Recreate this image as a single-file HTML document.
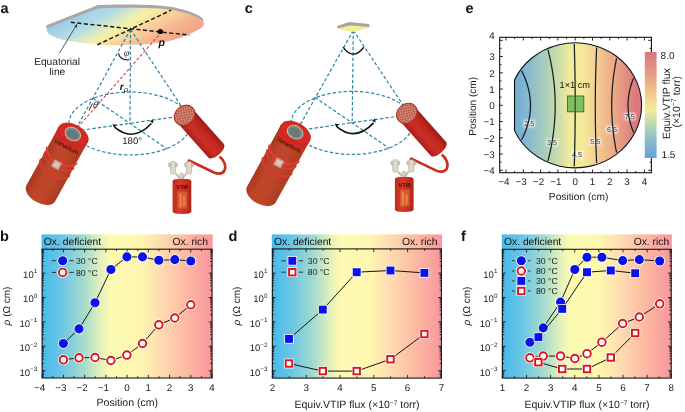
<!DOCTYPE html>
<html><head><meta charset="utf-8"><style>html,body{margin:0;padding:0;background:#fff;}svg{display:block;text-rendering:geometricPrecision;filter:blur(0.35px);}</style></head>
<body>
<svg width="685" height="412" viewBox="0 0 685 412" font-family="'Liberation Sans', sans-serif">
<defs>
<linearGradient id="gb" x1="0" x2="1" y1="0" y2="0">
<stop offset="0" stop-color="#45baeb"/>
<stop offset="0.12" stop-color="#6cc6e4"/>
<stop offset="0.25" stop-color="#a6dccc"/>
<stop offset="0.34" stop-color="#e0f0bc"/>
<stop offset="0.40" stop-color="#fdfbb2"/>
<stop offset="0.58" stop-color="#fef6b0"/>
<stop offset="0.70" stop-color="#fedbb0"/>
<stop offset="0.85" stop-color="#fcb8a2"/>
<stop offset="1" stop-color="#f9969e"/>
</linearGradient>
</defs>
<rect width="685" height="412" fill="#fff"/>
<text x="0.4" y="12.7" font-size="14.5" font-weight="bold" fill="#111">a</text>
<text x="244.8" y="13" font-size="14.5" font-weight="bold" fill="#111">c</text>
<text x="465.4" y="13" font-size="14.5" font-weight="bold" fill="#111">e</text>
<text x="0.0" y="241" font-size="14.5" font-weight="bold" fill="#111">b</text>
<text x="228.4" y="241" font-size="14.5" font-weight="bold" fill="#111">d</text>
<text x="461.0" y="241" font-size="14.5" font-weight="bold" fill="#111">f</text>
<rect x="41.6" y="234.4" width="171.0" height="143.6" fill="url(#gb)"/>
<text x="43.800000000000004" y="244.8" font-size="10.3" fill="#111">Ox. deficient</text>
<text x="208" y="244.8" font-size="10.3" fill="#111" text-anchor="end">Ox. rich</text>
<rect x="42.2" y="249.2" width="169.8" height="128.8" fill="none" stroke="#1a1a1a" stroke-width="1.1"/>
<path d="M42.20,378v-3.2M42.20,249.2v3.2M52.81,378v-1.8M52.81,249.2v1.8M63.43,378v-3.2M63.43,249.2v3.2M74.04,378v-1.8M74.04,249.2v1.8M84.65,378v-3.2M84.65,249.2v3.2M95.26,378v-1.8M95.26,249.2v1.8M105.88,378v-3.2M105.88,249.2v3.2M116.49,378v-1.8M116.49,249.2v1.8M127.10,378v-3.2M127.10,249.2v3.2M137.71,378v-1.8M137.71,249.2v1.8M148.32,378v-3.2M148.32,249.2v3.2M158.94,378v-1.8M158.94,249.2v1.8M169.55,378v-3.2M169.55,249.2v3.2M180.16,378v-1.8M180.16,249.2v1.8M190.78,378v-3.2M190.78,249.2v3.2M201.39,378v-1.8M201.39,249.2v1.8M212.00,378v-3.2M212.00,249.2v3.2M42.2,376.11h1.8M212,376.11h-1.8M42.2,374.48h1.8M212,374.48h-1.8M42.2,373.06h1.8M212,373.06h-1.8M42.2,371.82h1.8M212,371.82h-1.8M42.2,370.70h3.2M212,370.70h-3.2M42.2,363.35h1.8M212,363.35h-1.8M42.2,359.06h1.8M212,359.06h-1.8M42.2,356.01h1.8M212,356.01h-1.8M42.2,353.65h1.8M212,353.65h-1.8M42.2,351.71h1.8M212,351.71h-1.8M42.2,350.08h1.8M212,350.08h-1.8M42.2,348.66h1.8M212,348.66h-1.8M42.2,347.42h1.8M212,347.42h-1.8M42.2,346.30h3.2M212,346.30h-3.2M42.2,338.95h1.8M212,338.95h-1.8M42.2,334.66h1.8M212,334.66h-1.8M42.2,331.61h1.8M212,331.61h-1.8M42.2,329.25h1.8M212,329.25h-1.8M42.2,327.31h1.8M212,327.31h-1.8M42.2,325.68h1.8M212,325.68h-1.8M42.2,324.26h1.8M212,324.26h-1.8M42.2,323.02h1.8M212,323.02h-1.8M42.2,321.90h3.2M212,321.90h-3.2M42.2,314.55h1.8M212,314.55h-1.8M42.2,310.26h1.8M212,310.26h-1.8M42.2,307.21h1.8M212,307.21h-1.8M42.2,304.85h1.8M212,304.85h-1.8M42.2,302.91h1.8M212,302.91h-1.8M42.2,301.28h1.8M212,301.28h-1.8M42.2,299.86h1.8M212,299.86h-1.8M42.2,298.62h1.8M212,298.62h-1.8M42.2,297.50h3.2M212,297.50h-3.2M42.2,290.15h1.8M212,290.15h-1.8M42.2,285.86h1.8M212,285.86h-1.8M42.2,282.81h1.8M212,282.81h-1.8M42.2,280.45h1.8M212,280.45h-1.8M42.2,278.51h1.8M212,278.51h-1.8M42.2,276.88h1.8M212,276.88h-1.8M42.2,275.46h1.8M212,275.46h-1.8M42.2,274.22h1.8M212,274.22h-1.8M42.2,273.10h3.2M212,273.10h-3.2M42.2,265.75h1.8M212,265.75h-1.8M42.2,261.46h1.8M212,261.46h-1.8M42.2,258.41h1.8M212,258.41h-1.8M42.2,256.05h1.8M212,256.05h-1.8M42.2,254.11h1.8M212,254.11h-1.8M42.2,252.48h1.8M212,252.48h-1.8M42.2,251.06h1.8M212,251.06h-1.8M42.2,249.82h1.8M212,249.82h-1.8" stroke="#1a1a1a" stroke-width="0.9" fill="none"/>
<text x="42.60" y="390.9" font-size="9.8" fill="#222" text-anchor="middle">4</text>
<text x="39.80" y="390.9" font-size="9.8" fill="#222" text-anchor="end">−</text>
<text x="63.83" y="390.9" font-size="9.8" fill="#222" text-anchor="middle">3</text>
<text x="61.03" y="390.9" font-size="9.8" fill="#222" text-anchor="end">−</text>
<text x="85.05" y="390.9" font-size="9.8" fill="#222" text-anchor="middle">2</text>
<text x="82.25" y="390.9" font-size="9.8" fill="#222" text-anchor="end">−</text>
<text x="106.28" y="390.9" font-size="9.8" fill="#222" text-anchor="middle">1</text>
<text x="103.47" y="390.9" font-size="9.8" fill="#222" text-anchor="end">−</text>
<text x="127.10" y="390.9" font-size="9.8" fill="#222" text-anchor="middle">0</text>
<text x="148.32" y="390.9" font-size="9.8" fill="#222" text-anchor="middle">1</text>
<text x="169.55" y="390.9" font-size="9.8" fill="#222" text-anchor="middle">2</text>
<text x="190.78" y="390.9" font-size="9.8" fill="#222" text-anchor="middle">3</text>
<text x="212.00" y="390.9" font-size="9.8" fill="#222" text-anchor="middle">4</text>
<text x="127.3" y="406.4" font-size="10.55" fill="#222" text-anchor="middle">Position (cm)</text>
<text x="37.2" y="277.90" font-size="9.5" fill="#222" text-anchor="end">10<tspan dy="-4.6" font-size="6.3">1</tspan></text>
<text x="37.2" y="302.30" font-size="9.5" fill="#222" text-anchor="end">10<tspan dy="-4.6" font-size="6.3">0</tspan></text>
<text x="37.2" y="326.70" font-size="9.5" fill="#222" text-anchor="end">10<tspan dy="-4.6" font-size="6.3">−1</tspan></text>
<text x="37.2" y="351.10" font-size="9.5" fill="#222" text-anchor="end">10<tspan dy="-4.6" font-size="6.3">−2</tspan></text>
<text x="37.2" y="375.50" font-size="9.5" fill="#222" text-anchor="end">10<tspan dy="-4.6" font-size="6.3">−3</tspan></text>
<text transform="translate(9.700000000000003,306) rotate(-90)" font-size="10" fill="#222" text-anchor="middle"><tspan font-style="italic">ρ</tspan> (Ω cm)</text>
<path d="M63.40,343.50 L79.00,328.90 L95.00,302.80 L110.90,269.50 L126.90,256.90 L142.50,256.90 L158.80,260.30 L174.80,259.60 L190.80,261.00" stroke="#151515" stroke-width="1.0" fill="none"/>
<circle cx="63.40" cy="343.50" r="5.3" fill="#fff"/><circle cx="63.40" cy="343.50" r="4.55" fill="#0a12e8"/>
<circle cx="79.00" cy="328.90" r="5.3" fill="#fff"/><circle cx="79.00" cy="328.90" r="4.55" fill="#0a12e8"/>
<circle cx="95.00" cy="302.80" r="5.3" fill="#fff"/><circle cx="95.00" cy="302.80" r="4.55" fill="#0a12e8"/>
<circle cx="110.90" cy="269.50" r="5.3" fill="#fff"/><circle cx="110.90" cy="269.50" r="4.55" fill="#0a12e8"/>
<circle cx="126.90" cy="256.90" r="5.3" fill="#fff"/><circle cx="126.90" cy="256.90" r="4.55" fill="#0a12e8"/>
<circle cx="142.50" cy="256.90" r="5.3" fill="#fff"/><circle cx="142.50" cy="256.90" r="4.55" fill="#0a12e8"/>
<circle cx="158.80" cy="260.30" r="5.3" fill="#fff"/><circle cx="158.80" cy="260.30" r="4.55" fill="#0a12e8"/>
<circle cx="174.80" cy="259.60" r="5.3" fill="#fff"/><circle cx="174.80" cy="259.60" r="4.55" fill="#0a12e8"/>
<circle cx="190.80" cy="261.00" r="5.3" fill="#fff"/><circle cx="190.80" cy="261.00" r="4.55" fill="#0a12e8"/>
<path d="M63.40,359.80 L79.00,357.80 L95.00,357.50 L110.90,360.50 L126.90,355.10 L142.50,343.50 L158.80,324.80 L174.80,318.00 L190.80,304.80" stroke="#151515" stroke-width="1.0" fill="none"/>
<circle cx="63.40" cy="359.80" r="5.5" fill="#fff"/><circle cx="63.40" cy="359.80" r="3.8" fill="#fff" stroke="#d8141c" stroke-width="1.9"/>
<circle cx="79.00" cy="357.80" r="5.5" fill="#fff"/><circle cx="79.00" cy="357.80" r="3.8" fill="#fff" stroke="#d8141c" stroke-width="1.9"/>
<circle cx="95.00" cy="357.50" r="5.5" fill="#fff"/><circle cx="95.00" cy="357.50" r="3.8" fill="#fff" stroke="#d8141c" stroke-width="1.9"/>
<circle cx="110.90" cy="360.50" r="5.5" fill="#fff"/><circle cx="110.90" cy="360.50" r="3.8" fill="#fff" stroke="#d8141c" stroke-width="1.9"/>
<circle cx="126.90" cy="355.10" r="5.5" fill="#fff"/><circle cx="126.90" cy="355.10" r="3.8" fill="#fff" stroke="#d8141c" stroke-width="1.9"/>
<circle cx="142.50" cy="343.50" r="5.5" fill="#fff"/><circle cx="142.50" cy="343.50" r="3.8" fill="#fff" stroke="#d8141c" stroke-width="1.9"/>
<circle cx="158.80" cy="324.80" r="5.5" fill="#fff"/><circle cx="158.80" cy="324.80" r="3.8" fill="#fff" stroke="#d8141c" stroke-width="1.9"/>
<circle cx="174.80" cy="318.00" r="5.5" fill="#fff"/><circle cx="174.80" cy="318.00" r="3.8" fill="#fff" stroke="#d8141c" stroke-width="1.9"/>
<circle cx="190.80" cy="304.80" r="5.5" fill="#fff"/><circle cx="190.80" cy="304.80" r="3.8" fill="#fff" stroke="#d8141c" stroke-width="1.9"/>
<path d="M51.7,260.7H56.1M69.3,260.7H73.7" stroke="#223" stroke-width="0.9"/>
<circle cx="62.70" cy="260.70" r="5.3" fill="#fff"/><circle cx="62.70" cy="260.70" r="4.55" fill="#0a12e8"/>
<text x="76.0" y="263.9" font-size="8.7" fill="#222">30 °C</text>
<path d="M51.7,272.4H56.1M69.3,272.4H73.7" stroke="#223" stroke-width="0.9"/>
<circle cx="62.70" cy="272.40" r="5.5" fill="#fff"/><circle cx="62.70" cy="272.40" r="3.8" fill="#fff" stroke="#d8141c" stroke-width="1.9"/>
<text x="76.0" y="275.59999999999997" font-size="8.7" fill="#222">80 °C</text>
<rect x="271.79999999999995" y="234.4" width="170.2" height="143.70000000000002" fill="url(#gb)"/>
<text x="274.0" y="244.8" font-size="10.3" fill="#111">Ox. deficient</text>
<text x="437.4" y="244.8" font-size="10.3" fill="#111" text-anchor="end">Ox. rich</text>
<rect x="272.4" y="248.9" width="169.0" height="129.20000000000002" fill="none" stroke="#1a1a1a" stroke-width="1.1"/>
<path d="M272.40,378.1v-3.2M272.40,248.9v3.2M289.30,378.1v-1.8M289.30,248.9v1.8M306.20,378.1v-3.2M306.20,248.9v3.2M323.10,378.1v-1.8M323.10,248.9v1.8M340.00,378.1v-3.2M340.00,248.9v3.2M356.90,378.1v-1.8M356.90,248.9v1.8M373.80,378.1v-3.2M373.80,248.9v3.2M390.70,378.1v-1.8M390.70,248.9v1.8M407.60,378.1v-3.2M407.60,248.9v3.2M424.50,378.1v-1.8M424.50,248.9v1.8M441.40,378.1v-3.2M441.40,248.9v3.2M272.4,376.11h1.8M441.4,376.11h-1.8M272.4,374.48h1.8M441.4,374.48h-1.8M272.4,373.06h1.8M441.4,373.06h-1.8M272.4,371.82h1.8M441.4,371.82h-1.8M272.4,370.70h3.2M441.4,370.70h-3.2M272.4,363.35h1.8M441.4,363.35h-1.8M272.4,359.06h1.8M441.4,359.06h-1.8M272.4,356.01h1.8M441.4,356.01h-1.8M272.4,353.65h1.8M441.4,353.65h-1.8M272.4,351.71h1.8M441.4,351.71h-1.8M272.4,350.08h1.8M441.4,350.08h-1.8M272.4,348.66h1.8M441.4,348.66h-1.8M272.4,347.42h1.8M441.4,347.42h-1.8M272.4,346.30h3.2M441.4,346.30h-3.2M272.4,338.95h1.8M441.4,338.95h-1.8M272.4,334.66h1.8M441.4,334.66h-1.8M272.4,331.61h1.8M441.4,331.61h-1.8M272.4,329.25h1.8M441.4,329.25h-1.8M272.4,327.31h1.8M441.4,327.31h-1.8M272.4,325.68h1.8M441.4,325.68h-1.8M272.4,324.26h1.8M441.4,324.26h-1.8M272.4,323.02h1.8M441.4,323.02h-1.8M272.4,321.90h3.2M441.4,321.90h-3.2M272.4,314.55h1.8M441.4,314.55h-1.8M272.4,310.26h1.8M441.4,310.26h-1.8M272.4,307.21h1.8M441.4,307.21h-1.8M272.4,304.85h1.8M441.4,304.85h-1.8M272.4,302.91h1.8M441.4,302.91h-1.8M272.4,301.28h1.8M441.4,301.28h-1.8M272.4,299.86h1.8M441.4,299.86h-1.8M272.4,298.62h1.8M441.4,298.62h-1.8M272.4,297.50h3.2M441.4,297.50h-3.2M272.4,290.15h1.8M441.4,290.15h-1.8M272.4,285.86h1.8M441.4,285.86h-1.8M272.4,282.81h1.8M441.4,282.81h-1.8M272.4,280.45h1.8M441.4,280.45h-1.8M272.4,278.51h1.8M441.4,278.51h-1.8M272.4,276.88h1.8M441.4,276.88h-1.8M272.4,275.46h1.8M441.4,275.46h-1.8M272.4,274.22h1.8M441.4,274.22h-1.8M272.4,273.10h3.2M441.4,273.10h-3.2M272.4,265.75h1.8M441.4,265.75h-1.8M272.4,261.46h1.8M441.4,261.46h-1.8M272.4,258.41h1.8M441.4,258.41h-1.8M272.4,256.05h1.8M441.4,256.05h-1.8M272.4,254.11h1.8M441.4,254.11h-1.8M272.4,252.48h1.8M441.4,252.48h-1.8M272.4,251.06h1.8M441.4,251.06h-1.8M272.4,249.82h1.8M441.4,249.82h-1.8" stroke="#1a1a1a" stroke-width="0.9" fill="none"/>
<text x="272.40" y="391.0" font-size="9.8" fill="#222" text-anchor="middle">2</text>
<text x="306.20" y="391.0" font-size="9.8" fill="#222" text-anchor="middle">3</text>
<text x="340.00" y="391.0" font-size="9.8" fill="#222" text-anchor="middle">4</text>
<text x="373.80" y="391.0" font-size="9.8" fill="#222" text-anchor="middle">5</text>
<text x="407.60" y="391.0" font-size="9.8" fill="#222" text-anchor="middle">6</text>
<text x="441.40" y="391.0" font-size="9.8" fill="#222" text-anchor="middle">7</text>
<text x="357" y="408.2" font-size="10.55" fill="#222" text-anchor="middle">Equiv.VTIP flux (×10<tspan dy="-3.6" font-size="6.5">−7</tspan><tspan dy="3.6"> torr)</tspan></text>
<text x="267.4" y="277.90" font-size="9.5" fill="#222" text-anchor="end">10<tspan dy="-4.6" font-size="6.3">1</tspan></text>
<text x="267.4" y="302.30" font-size="9.5" fill="#222" text-anchor="end">10<tspan dy="-4.6" font-size="6.3">0</tspan></text>
<text x="267.4" y="326.70" font-size="9.5" fill="#222" text-anchor="end">10<tspan dy="-4.6" font-size="6.3">−1</tspan></text>
<text x="267.4" y="351.10" font-size="9.5" fill="#222" text-anchor="end">10<tspan dy="-4.6" font-size="6.3">−2</tspan></text>
<text x="267.4" y="375.50" font-size="9.5" fill="#222" text-anchor="end">10<tspan dy="-4.6" font-size="6.3">−3</tspan></text>
<text transform="translate(239.89999999999998,306) rotate(-90)" font-size="10" fill="#222" text-anchor="middle"><tspan font-style="italic">ρ</tspan> (Ω cm)</text>
<path d="M289.00,338.90 L322.80,309.60 L356.70,272.20 L390.50,270.50 L424.40,272.90" stroke="#151515" stroke-width="1.0" fill="none"/>
<rect x="284.30" y="334.20" width="9.4" height="9.4" fill="#fff"/><rect x="285.05" y="334.95" width="7.9" height="7.9" fill="#0a12e8"/>
<rect x="318.10" y="304.90" width="9.4" height="9.4" fill="#fff"/><rect x="318.85" y="305.65" width="7.9" height="7.9" fill="#0a12e8"/>
<rect x="352.00" y="267.50" width="9.4" height="9.4" fill="#fff"/><rect x="352.75" y="268.25" width="7.9" height="7.9" fill="#0a12e8"/>
<rect x="385.80" y="265.80" width="9.4" height="9.4" fill="#fff"/><rect x="386.55" y="266.55" width="7.9" height="7.9" fill="#0a12e8"/>
<rect x="419.70" y="268.20" width="9.4" height="9.4" fill="#fff"/><rect x="420.45" y="268.95" width="7.9" height="7.9" fill="#0a12e8"/>
<path d="M289.00,363.50 L322.80,371.10 L356.70,371.10 L390.50,359.20 L424.40,334.00" stroke="#151515" stroke-width="1.0" fill="none"/>
<rect x="284.10" y="358.60" width="9.8" height="9.8" fill="#fff"/><rect x="285.75" y="360.25" width="6.5" height="6.5" fill="#fff" stroke="#d8141c" stroke-width="1.9"/>
<rect x="317.90" y="366.20" width="9.8" height="9.8" fill="#fff"/><rect x="319.55" y="367.85" width="6.5" height="6.5" fill="#fff" stroke="#d8141c" stroke-width="1.9"/>
<rect x="351.80" y="366.20" width="9.8" height="9.8" fill="#fff"/><rect x="353.45" y="367.85" width="6.5" height="6.5" fill="#fff" stroke="#d8141c" stroke-width="1.9"/>
<rect x="385.60" y="354.30" width="9.8" height="9.8" fill="#fff"/><rect x="387.25" y="355.95" width="6.5" height="6.5" fill="#fff" stroke="#d8141c" stroke-width="1.9"/>
<rect x="419.50" y="329.10" width="9.8" height="9.8" fill="#fff"/><rect x="421.15" y="330.75" width="6.5" height="6.5" fill="#fff" stroke="#d8141c" stroke-width="1.9"/>
<path d="M281.5,260.8H285.7M298.90000000000003,260.8H303.1" stroke="#223" stroke-width="0.9"/>
<rect x="287.60" y="256.10" width="9.4" height="9.4" fill="#fff"/><rect x="288.35" y="256.85" width="7.9" height="7.9" fill="#0a12e8"/>
<text x="307.8" y="264.0" font-size="8.7" fill="#222">30 °C</text>
<path d="M281.5,272.2H285.7M298.90000000000003,272.2H303.1" stroke="#223" stroke-width="0.9"/>
<rect x="287.40" y="267.30" width="9.8" height="9.8" fill="#fff"/><rect x="289.05" y="268.95" width="6.5" height="6.5" fill="#fff" stroke="#d8141c" stroke-width="1.9"/>
<text x="307.8" y="275.4" font-size="8.7" fill="#222">80 °C</text>
<rect x="501.79999999999995" y="234.4" width="170.00000000000006" height="143.70000000000002" fill="url(#gb)"/>
<text x="504.0" y="244.8" font-size="10.3" fill="#111">Ox. deficient</text>
<text x="669.2" y="244.8" font-size="10.3" fill="#111" text-anchor="end">Ox. rich</text>
<rect x="502.4" y="249.3" width="168.80000000000007" height="128.8" fill="none" stroke="#1a1a1a" stroke-width="1.1"/>
<path d="M502.40,378.1v-3.2M502.40,249.3v3.2M514.46,378.1v-1.8M514.46,249.3v1.8M526.51,378.1v-3.2M526.51,249.3v3.2M538.57,378.1v-1.8M538.57,249.3v1.8M550.63,378.1v-3.2M550.63,249.3v3.2M562.69,378.1v-1.8M562.69,249.3v1.8M574.74,378.1v-3.2M574.74,249.3v3.2M586.80,378.1v-1.8M586.80,249.3v1.8M598.86,378.1v-3.2M598.86,249.3v3.2M610.91,378.1v-1.8M610.91,249.3v1.8M622.97,378.1v-3.2M622.97,249.3v3.2M635.03,378.1v-1.8M635.03,249.3v1.8M647.09,378.1v-3.2M647.09,249.3v3.2M659.14,378.1v-1.8M659.14,249.3v1.8M671.20,378.1v-3.2M671.20,249.3v3.2M502.4,376.11h1.8M671.2,376.11h-1.8M502.4,374.48h1.8M671.2,374.48h-1.8M502.4,373.06h1.8M671.2,373.06h-1.8M502.4,371.82h1.8M671.2,371.82h-1.8M502.4,370.70h3.2M671.2,370.70h-3.2M502.4,363.35h1.8M671.2,363.35h-1.8M502.4,359.06h1.8M671.2,359.06h-1.8M502.4,356.01h1.8M671.2,356.01h-1.8M502.4,353.65h1.8M671.2,353.65h-1.8M502.4,351.71h1.8M671.2,351.71h-1.8M502.4,350.08h1.8M671.2,350.08h-1.8M502.4,348.66h1.8M671.2,348.66h-1.8M502.4,347.42h1.8M671.2,347.42h-1.8M502.4,346.30h3.2M671.2,346.30h-3.2M502.4,338.95h1.8M671.2,338.95h-1.8M502.4,334.66h1.8M671.2,334.66h-1.8M502.4,331.61h1.8M671.2,331.61h-1.8M502.4,329.25h1.8M671.2,329.25h-1.8M502.4,327.31h1.8M671.2,327.31h-1.8M502.4,325.68h1.8M671.2,325.68h-1.8M502.4,324.26h1.8M671.2,324.26h-1.8M502.4,323.02h1.8M671.2,323.02h-1.8M502.4,321.90h3.2M671.2,321.90h-3.2M502.4,314.55h1.8M671.2,314.55h-1.8M502.4,310.26h1.8M671.2,310.26h-1.8M502.4,307.21h1.8M671.2,307.21h-1.8M502.4,304.85h1.8M671.2,304.85h-1.8M502.4,302.91h1.8M671.2,302.91h-1.8M502.4,301.28h1.8M671.2,301.28h-1.8M502.4,299.86h1.8M671.2,299.86h-1.8M502.4,298.62h1.8M671.2,298.62h-1.8M502.4,297.50h3.2M671.2,297.50h-3.2M502.4,290.15h1.8M671.2,290.15h-1.8M502.4,285.86h1.8M671.2,285.86h-1.8M502.4,282.81h1.8M671.2,282.81h-1.8M502.4,280.45h1.8M671.2,280.45h-1.8M502.4,278.51h1.8M671.2,278.51h-1.8M502.4,276.88h1.8M671.2,276.88h-1.8M502.4,275.46h1.8M671.2,275.46h-1.8M502.4,274.22h1.8M671.2,274.22h-1.8M502.4,273.10h3.2M671.2,273.10h-3.2M502.4,265.75h1.8M671.2,265.75h-1.8M502.4,261.46h1.8M671.2,261.46h-1.8M502.4,258.41h1.8M671.2,258.41h-1.8M502.4,256.05h1.8M671.2,256.05h-1.8M502.4,254.11h1.8M671.2,254.11h-1.8M502.4,252.48h1.8M671.2,252.48h-1.8M502.4,251.06h1.8M671.2,251.06h-1.8M502.4,249.82h1.8M671.2,249.82h-1.8" stroke="#1a1a1a" stroke-width="0.9" fill="none"/>
<text x="502.40" y="391.0" font-size="9.8" fill="#222" text-anchor="middle">1</text>
<text x="526.51" y="391.0" font-size="9.8" fill="#222" text-anchor="middle">2</text>
<text x="550.63" y="391.0" font-size="9.8" fill="#222" text-anchor="middle">3</text>
<text x="574.74" y="391.0" font-size="9.8" fill="#222" text-anchor="middle">4</text>
<text x="598.86" y="391.0" font-size="9.8" fill="#222" text-anchor="middle">5</text>
<text x="622.97" y="391.0" font-size="9.8" fill="#222" text-anchor="middle">6</text>
<text x="647.09" y="391.0" font-size="9.8" fill="#222" text-anchor="middle">7</text>
<text x="671.20" y="391.0" font-size="9.8" fill="#222" text-anchor="middle">8</text>
<text x="587" y="408.4" font-size="10.55" fill="#222" text-anchor="middle">Equiv.VTIP flux (×10<tspan dy="-3.6" font-size="6.5">−7</tspan><tspan dy="3.6"> torr)</tspan></text>
<text x="497.4" y="277.90" font-size="9.5" fill="#222" text-anchor="end">10<tspan dy="-4.6" font-size="6.3">1</tspan></text>
<text x="497.4" y="302.30" font-size="9.5" fill="#222" text-anchor="end">10<tspan dy="-4.6" font-size="6.3">0</tspan></text>
<text x="497.4" y="326.70" font-size="9.5" fill="#222" text-anchor="end">10<tspan dy="-4.6" font-size="6.3">−1</tspan></text>
<text x="497.4" y="351.10" font-size="9.5" fill="#222" text-anchor="end">10<tspan dy="-4.6" font-size="6.3">−2</tspan></text>
<text x="497.4" y="375.50" font-size="9.5" fill="#222" text-anchor="end">10<tspan dy="-4.6" font-size="6.3">−3</tspan></text>
<text transform="translate(469.9,306) rotate(-90)" font-size="10" fill="#222" text-anchor="middle"><tspan font-style="italic">ρ</tspan> (Ω cm)</text>
<path d="M529.90,342.20 L543.20,327.90 L560.50,302.10 L574.80,269.50 L587.00,257.20 L601.90,257.20 L622.70,260.60 L639.30,259.60 L659.70,261.00" stroke="#151515" stroke-width="1.0" fill="none"/>
<circle cx="529.90" cy="342.20" r="5.3" fill="#fff"/><circle cx="529.90" cy="342.20" r="4.55" fill="#0a12e8"/>
<circle cx="543.20" cy="327.90" r="5.3" fill="#fff"/><circle cx="543.20" cy="327.90" r="4.55" fill="#0a12e8"/>
<circle cx="560.50" cy="302.10" r="5.3" fill="#fff"/><circle cx="560.50" cy="302.10" r="4.55" fill="#0a12e8"/>
<circle cx="574.80" cy="269.50" r="5.3" fill="#fff"/><circle cx="574.80" cy="269.50" r="4.55" fill="#0a12e8"/>
<circle cx="587.00" cy="257.20" r="5.3" fill="#fff"/><circle cx="587.00" cy="257.20" r="4.55" fill="#0a12e8"/>
<circle cx="601.90" cy="257.20" r="5.3" fill="#fff"/><circle cx="601.90" cy="257.20" r="4.55" fill="#0a12e8"/>
<circle cx="622.70" cy="260.60" r="5.3" fill="#fff"/><circle cx="622.70" cy="260.60" r="4.55" fill="#0a12e8"/>
<circle cx="639.30" cy="259.60" r="5.3" fill="#fff"/><circle cx="639.30" cy="259.60" r="4.55" fill="#0a12e8"/>
<circle cx="659.70" cy="261.00" r="5.3" fill="#fff"/><circle cx="659.70" cy="261.00" r="4.55" fill="#0a12e8"/>
<path d="M538.40,337.10 L562.20,308.90 L587.00,272.20 L610.80,270.50 L635.20,273.20" stroke="#151515" stroke-width="1.0" fill="none"/>
<rect x="533.70" y="332.40" width="9.4" height="9.4" fill="#fff"/><rect x="534.45" y="333.15" width="7.9" height="7.9" fill="#0a12e8"/>
<rect x="557.50" y="304.20" width="9.4" height="9.4" fill="#fff"/><rect x="558.25" y="304.95" width="7.9" height="7.9" fill="#0a12e8"/>
<rect x="582.30" y="267.50" width="9.4" height="9.4" fill="#fff"/><rect x="583.05" y="268.25" width="7.9" height="7.9" fill="#0a12e8"/>
<rect x="606.10" y="265.80" width="9.4" height="9.4" fill="#fff"/><rect x="606.85" y="266.55" width="7.9" height="7.9" fill="#0a12e8"/>
<rect x="630.50" y="268.50" width="9.4" height="9.4" fill="#fff"/><rect x="631.25" y="269.25" width="7.9" height="7.9" fill="#0a12e8"/>
<path d="M529.90,357.80 L543.20,356.10 L560.50,356.10 L574.80,358.50 L587.00,353.70 L601.90,342.20 L622.70,323.50 L639.30,317.00 L659.70,303.80" stroke="#151515" stroke-width="1.0" fill="none"/>
<circle cx="529.90" cy="357.80" r="5.5" fill="#fff"/><circle cx="529.90" cy="357.80" r="3.8" fill="#fff" stroke="#d8141c" stroke-width="1.9"/>
<circle cx="543.20" cy="356.10" r="5.5" fill="#fff"/><circle cx="543.20" cy="356.10" r="3.8" fill="#fff" stroke="#d8141c" stroke-width="1.9"/>
<circle cx="560.50" cy="356.10" r="5.5" fill="#fff"/><circle cx="560.50" cy="356.10" r="3.8" fill="#fff" stroke="#d8141c" stroke-width="1.9"/>
<circle cx="574.80" cy="358.50" r="5.5" fill="#fff"/><circle cx="574.80" cy="358.50" r="3.8" fill="#fff" stroke="#d8141c" stroke-width="1.9"/>
<circle cx="587.00" cy="353.70" r="5.5" fill="#fff"/><circle cx="587.00" cy="353.70" r="3.8" fill="#fff" stroke="#d8141c" stroke-width="1.9"/>
<circle cx="601.90" cy="342.20" r="5.5" fill="#fff"/><circle cx="601.90" cy="342.20" r="3.8" fill="#fff" stroke="#d8141c" stroke-width="1.9"/>
<circle cx="622.70" cy="323.50" r="5.5" fill="#fff"/><circle cx="622.70" cy="323.50" r="3.8" fill="#fff" stroke="#d8141c" stroke-width="1.9"/>
<circle cx="639.30" cy="317.00" r="5.5" fill="#fff"/><circle cx="639.30" cy="317.00" r="3.8" fill="#fff" stroke="#d8141c" stroke-width="1.9"/>
<circle cx="659.70" cy="303.80" r="5.5" fill="#fff"/><circle cx="659.70" cy="303.80" r="3.8" fill="#fff" stroke="#d8141c" stroke-width="1.9"/>
<path d="M538.40,362.20 L562.20,369.00 L587.00,369.00 L610.80,357.50 L635.20,333.00" stroke="#151515" stroke-width="1.0" fill="none"/>
<rect x="533.50" y="357.30" width="9.8" height="9.8" fill="#fff"/><rect x="535.15" y="358.95" width="6.5" height="6.5" fill="#fff" stroke="#d8141c" stroke-width="1.9"/>
<rect x="557.30" y="364.10" width="9.8" height="9.8" fill="#fff"/><rect x="558.95" y="365.75" width="6.5" height="6.5" fill="#fff" stroke="#d8141c" stroke-width="1.9"/>
<rect x="582.10" y="364.10" width="9.8" height="9.8" fill="#fff"/><rect x="583.75" y="365.75" width="6.5" height="6.5" fill="#fff" stroke="#d8141c" stroke-width="1.9"/>
<rect x="605.90" y="352.60" width="9.8" height="9.8" fill="#fff"/><rect x="607.55" y="354.25" width="6.5" height="6.5" fill="#fff" stroke="#d8141c" stroke-width="1.9"/>
<rect x="630.30" y="328.10" width="9.8" height="9.8" fill="#fff"/><rect x="631.95" y="329.75" width="6.5" height="6.5" fill="#fff" stroke="#d8141c" stroke-width="1.9"/>
<path d="M512.0999999999999,260.7H514.5M528.0999999999999,260.7H530.5" stroke="#223" stroke-width="0.9"/>
<circle cx="521.30" cy="260.70" r="5.3" fill="#fff"/><circle cx="521.30" cy="260.70" r="4.55" fill="#0a12e8"/>
<text x="536.0" y="263.9" font-size="8.7" fill="#222">30 °C</text>
<path d="M512.0999999999999,271H514.5M528.0999999999999,271H530.5" stroke="#223" stroke-width="0.9"/>
<circle cx="521.30" cy="271.00" r="5.5" fill="#fff"/><circle cx="521.30" cy="271.00" r="3.8" fill="#fff" stroke="#d8141c" stroke-width="1.9"/>
<text x="536.0" y="274.2" font-size="8.7" fill="#222">80 °C</text>
<path d="M512.0999999999999,280.9H514.5M528.0999999999999,280.9H530.5" stroke="#223" stroke-width="0.9"/>
<rect x="516.60" y="276.20" width="9.4" height="9.4" fill="#fff"/><rect x="517.35" y="276.95" width="7.9" height="7.9" fill="#0a12e8"/>
<text x="536.0" y="284.09999999999997" font-size="8.7" fill="#222">30 °C</text>
<path d="M512.0999999999999,291H514.5M528.0999999999999,291H530.5" stroke="#223" stroke-width="0.9"/>
<rect x="516.40" y="286.10" width="9.8" height="9.8" fill="#fff"/><rect x="518.05" y="287.75" width="6.5" height="6.5" fill="#fff" stroke="#d8141c" stroke-width="1.9"/>
<text x="536.0" y="294.2" font-size="8.7" fill="#222">80 °C</text>
<defs>
<linearGradient id="gdisk" gradientUnits="userSpaceOnUse" x1="22" y1="39.2" x2="61.25" y2="109">
<stop offset="0.025" stop-color="#98ccec"/>
<stop offset="0.26" stop-color="#b4dce4"/>
<stop offset="0.42" stop-color="#e8eeb8"/>
<stop offset="0.49" stop-color="#f6f0a2"/>
<stop offset="0.62" stop-color="#f8d49c"/>
<stop offset="0.8" stop-color="#f6b48e"/>
<stop offset="1" stop-color="#f2a086"/>
</linearGradient>
<linearGradient id="glc" x1="0" x2="1" y1="0" y2="0">
<stop offset="0" stop-color="#a8391f"/>
<stop offset="0.3" stop-color="#bd4628"/>
<stop offset="0.6" stop-color="#bf4729"/>
<stop offset="1" stop-color="#ab3b21"/>
</linearGradient>
<linearGradient id="grc" x1="0" x2="1" y1="0" y2="0">
<stop offset="0" stop-color="#a82018"/>
<stop offset="0.35" stop-color="#cc2e26"/>
<stop offset="0.7" stop-color="#c0281f"/>
<stop offset="1" stop-color="#9c1c14"/>
</linearGradient>
<linearGradient id="gvt" x1="0" x2="1" y1="0" y2="0">
<stop offset="0" stop-color="#c02a1c"/>
<stop offset="0.4" stop-color="#d83a2a"/>
<stop offset="1" stop-color="#b02418"/>
</linearGradient>
<pattern id="mesh" width="2.5" height="2.5" patternUnits="userSpaceOnUse" patternTransform="rotate(30)"><rect width="2.5" height="2.5" fill="#b4483a"/><circle cx="1.25" cy="1.25" r="0.95" fill="#dca48c"/></pattern>
</defs>
<path d="M47,28.3 L98,8.4 C110,7.6 140,7.3 159.4,8.5 C172,9.6 182,11.6 190,14.6 C198,17.5 204,20.5 204,23.5 C204,26.5 200,29 195,31.5 C188,35 178,38.8 170,40.7 C160,42.8 150,44 133,44.7 C120,45.3 108,45.3 97.7,44.6 C85,43.8 72,41.5 61.5,39.4 C53,37 48,34 46.9,31.2 Z" fill="#a8a8a8" transform="translate(-0.6,-3.1)"/>
<path d="M47,28.3 L98,8.4 C110,7.6 140,7.3 159.4,8.5 C172,9.6 182,11.6 190,14.6 C198,17.5 204,20.5 204,23.5 C204,26.5 200,29 195,31.5 C188,35 178,38.8 170,40.7 C160,42.8 150,44 133,44.7 C120,45.3 108,45.3 97.7,44.6 C85,43.8 72,41.5 61.5,39.4 C53,37 48,34 46.9,31.2 Z" fill="url(#gdisk)"/>
<ellipse cx="130" cy="123.5" rx="61" ry="31.5" stroke="#2d84a4" stroke-width="1.2" stroke-dasharray="3.4 2.1" fill="none"/>
<path d="M130.5,29.3 L76.5,128 M130.5,29.3 L182.5,108 M130.5,29.3 L130,121.5" stroke="#2d84a4" stroke-width="1.2" stroke-dasharray="3.4 2.1" fill="none"/>
<path d="M92.8,98 L167.2,149 M76,131 L183,115.8" stroke="#2d84a4" stroke-width="1.2" stroke-dasharray="3.4 2.1" fill="none"/>
<path d="M114.6,127.2 Q133,143 151.4,123.5" stroke="#111" stroke-width="1.6" fill="none"/>
<path d="M112.5,124.2 l4.2,0.6 l-2.6,3 z M152.8,119.2 l0.6,4 l-3.4,-1.6 z" fill="#111"/>
<text x="132.2" y="143.7" font-size="9.6" fill="#222" text-anchor="middle">180°</text>
<path d="M158.6,35.3 L77.4,127.8" stroke="#d44848" stroke-width="1.1" stroke-dasharray="3 2" fill="none"/>
<path d="M70.7,22.3 L189.4,35.1 M97.3,44.8 L171.2,10.2" stroke="#1a1a1a" stroke-width="1.45" stroke-dasharray="4.2 2.4" fill="none"/>
<circle cx="160.3" cy="31.5" r="2.6" fill="#000"/>
<text x="158.6" y="45.6" font-size="10.5" font-weight="bold" font-style="italic" fill="#111">p</text>
<path d="M59.5,53 L76,25.8" stroke="#333" stroke-width="0.8"/><path d="M77.3,23.5 l-0.4,4.2 l-2.6,-1.5 z" fill="#333"/>
<text x="57.1" y="64.6" font-size="10.2" fill="#222" text-anchor="middle">Equatorial</text>
<text x="57.3" y="74.5" font-size="10.2" fill="#222" text-anchor="middle">line</text>
<path d="M118.5,53.3 Q120.2,60.6 129.4,59.8" stroke="#222" stroke-width="1.1" fill="none"/>
<text x="126.4" y="55.6" font-size="10" font-family="'Liberation Serif', serif" font-style="italic" fill="#333" text-anchor="middle">φ</text>
<text x="119.8" y="89.8" font-size="10" font-weight="bold" font-style="italic" fill="#111">r<tspan dy="2.4" font-size="7.5" font-weight="normal">ρ</tspan></text>
<path d="M89,110.5 Q91,106 92.5,103.5" stroke="#222" stroke-width="1" fill="none"/>
<text x="95.5" y="107.5" font-size="9" font-style="italic" fill="#222" text-anchor="middle">θ</text>
<g transform="translate(73.20,134.60) rotate(28.90)"><path d="M-16.4,0 L-16.4,67 A16.4,9.84 0 0 0 16.4,67 L16.4,0 Z" fill="url(#glc)"/><path d="M-16.4,0 L-16.4,5.5 A16.4,9.8 0 0 0 16.4,5.5 L16.4,0 Z" fill="#cc2c22"/><path d="M-16.4,23 A16.4,9.3 0 0 0 16.4,23" stroke="#de3c34" stroke-width="2.6" fill="none"/><path d="M-16.4,28.5 A16.4,9.3 0 0 0 16.4,28.5" stroke="#d83a30" stroke-width="2.0" fill="none"/><path d="M-16.4,37 A16.4,9.3 0 0 0 16.4,37" stroke="#d63a30" stroke-width="2.2" fill="none"/><rect x="-4.2" y="30.5" width="8.4" height="8" fill="#c8b4ac" opacity="0.85"/><rect x="-2.6" y="32" width="5.2" height="5" fill="#e0d8d4" opacity="0.7"/><text x="0" y="16" font-size="6" fill="#2a0804" text-anchor="middle">Vanadium</text><ellipse cx="0" cy="0" rx="16.4" ry="9.84" fill="#d42a22" stroke="#b82418" stroke-width="0.6"/><ellipse cx="-0.6" cy="-0.3" rx="8.3" ry="6.3" fill="#7e8a86" stroke="#c8beb0" stroke-width="0.9"/><ellipse cx="-0.8" cy="0" rx="6" ry="4.4" fill="#667a78"/></g>
<g transform="translate(184.60,115.30) rotate(-41.68)"><path d="M-10.3,0 L-10.3,47.5 A10.3,4.64 0 0 0 10.3,47.5 L10.3,0 Z" fill="url(#grc)"/><ellipse cx="0" cy="0" rx="11.2" ry="9.4" fill="#c05a4a" stroke="#a82a1e" stroke-width="0.9"/><ellipse cx="0" cy="0" rx="10.2" ry="8.5" fill="url(#mesh)"/></g>
<path d="M219.5,156.5 C224,160 226.5,166 224.5,170.5 C222.5,174 218,174 214,172.5 L189,160.5 L187.8,163" stroke="#c8301e" stroke-width="2.6" fill="none" stroke-linejoin="round"/>
<path d="M168.7,163.2 h8.6 v3.4 h-8.6 z" fill="#d2cec2" stroke="#a09a8a" stroke-width="0.5"/>
<rect x="170.4" y="161.6" width="5.2" height="12.2" rx="1.6" fill="#dcd8cc" stroke="#a09a8a" stroke-width="0.5"/>
<path d="M184.7,163.2 h8.6 v3.4 h-8.6 z" fill="#d2cec2" stroke="#a09a8a" stroke-width="0.5"/>
<rect x="186.4" y="161.6" width="5.2" height="12.2" rx="1.6" fill="#dcd8cc" stroke="#a09a8a" stroke-width="0.5"/>
<path d="M175.6,173.5 L180,178.5 M186.4,173.5 L182.5,178.5" stroke="#c0baa8" stroke-width="1.8"/>
<ellipse cx="181.5" cy="175.5" rx="2" ry="2.5" fill="#dcd8cc" stroke="#a09a8a" stroke-width="0.5"/>
<path d="M172.6,181 Q172.6,178.7 182,178.7 Q191.3,178.7 191.3,181 L191.3,211.5 Q191.3,214 182,214 Q172.6,214 172.6,211.5 Z" fill="url(#gvt)"/>
<rect x="177.6" y="191.6" width="9.8" height="17" fill="#e0703a" opacity="0.6"/>
<rect x="179.5" y="194" width="2.2" height="13" fill="#f0b060" opacity="0.5"/>
<rect x="183" y="196" width="2.6" height="10" fill="#f0a050" opacity="0.5"/>
<text x="182.4" y="189" font-size="5.6" font-weight="bold" fill="#3a0806" text-anchor="middle">VTIP</text>
<ellipse cx="352.2" cy="122.9" rx="61" ry="31.5" stroke="#2d84a4" stroke-width="1.2" stroke-dasharray="3.4 2.1" fill="none"/>
<path d="M353.3,30.3 L298.7,127.4 M353.3,30.3 L404.7,107.4 M353.3,30.3 L352.2,120.9" stroke="#2d84a4" stroke-width="1.2" stroke-dasharray="3.4 2.1" fill="none"/>
<path d="M315.0,97.4 L389.4,148.4 M298.2,130.4 L405.2,115.2" stroke="#2d84a4" stroke-width="1.2" stroke-dasharray="3.4 2.1" fill="none"/>
<path d="M336.79999999999995,126.60000000000001 Q355.2,142.4 373.6,122.9" stroke="#111" stroke-width="1.6" fill="none"/>
<path d="M334.7,123.60000000000001 l4.2,0.6 l-2.6,3 z M375.0,118.60000000000001 l0.6,4 l-3.4,-1.6 z" fill="#111"/>
<g transform="translate(222.3,-1.9)"><g transform="translate(73.20,134.60) rotate(28.90)"><path d="M-16.4,0 L-16.4,70.5 A16.4,9.84 0 0 0 16.4,70.5 L16.4,0 Z" fill="url(#glc)"/><path d="M-16.4,0 L-16.4,5.5 A16.4,9.8 0 0 0 16.4,5.5 L16.4,0 Z" fill="#cc2c22"/><path d="M-16.4,23 A16.4,9.3 0 0 0 16.4,23" stroke="#de3c34" stroke-width="2.6" fill="none"/><path d="M-16.4,28.5 A16.4,9.3 0 0 0 16.4,28.5" stroke="#d83a30" stroke-width="2.0" fill="none"/><path d="M-16.4,37 A16.4,9.3 0 0 0 16.4,37" stroke="#d63a30" stroke-width="2.2" fill="none"/><rect x="-4.2" y="30.5" width="8.4" height="8" fill="#c8b4ac" opacity="0.85"/><rect x="-2.6" y="32" width="5.2" height="5" fill="#e0d8d4" opacity="0.7"/><text x="0" y="16" font-size="6" fill="#2a0804" text-anchor="middle">Vanadium</text><ellipse cx="0" cy="0" rx="16.4" ry="9.84" fill="#d42a22" stroke="#b82418" stroke-width="0.6"/><ellipse cx="-0.6" cy="-0.3" rx="8.3" ry="6.3" fill="#7e8a86" stroke="#c8beb0" stroke-width="0.9"/><ellipse cx="-0.8" cy="0" rx="6" ry="4.4" fill="#667a78"/></g>
<g transform="translate(184.60,115.30) rotate(-41.68)"><path d="M-10.3,0 L-10.3,47.5 A10.3,4.64 0 0 0 10.3,47.5 L10.3,0 Z" fill="url(#grc)"/><ellipse cx="0" cy="0" rx="11.2" ry="9.4" fill="#c05a4a" stroke="#a82a1e" stroke-width="0.9"/><ellipse cx="0" cy="0" rx="10.2" ry="8.5" fill="url(#mesh)"/></g>
<path d="M219.5,156.5 C224,160 226.5,166 224.5,170.5 C222.5,174 218,174 214,172.5 L189,160.5 L187.8,163" stroke="#c8301e" stroke-width="2.6" fill="none" stroke-linejoin="round"/>
<path d="M168.7,163.2 h8.6 v3.4 h-8.6 z" fill="#d2cec2" stroke="#a09a8a" stroke-width="0.5"/>
<rect x="170.4" y="161.6" width="5.2" height="12.2" rx="1.6" fill="#dcd8cc" stroke="#a09a8a" stroke-width="0.5"/>
<path d="M184.7,163.2 h8.6 v3.4 h-8.6 z" fill="#d2cec2" stroke="#a09a8a" stroke-width="0.5"/>
<rect x="186.4" y="161.6" width="5.2" height="12.2" rx="1.6" fill="#dcd8cc" stroke="#a09a8a" stroke-width="0.5"/>
<path d="M175.6,173.5 L180,178.5 M186.4,173.5 L182.5,178.5" stroke="#c0baa8" stroke-width="1.8"/>
<ellipse cx="181.5" cy="175.5" rx="2" ry="2.5" fill="#dcd8cc" stroke="#a09a8a" stroke-width="0.5"/>
<path d="M172.6,181 Q172.6,178.7 182,178.7 Q191.3,178.7 191.3,181 L191.3,211.5 Q191.3,214 182,214 Q172.6,214 172.6,211.5 Z" fill="url(#gvt)"/>
<rect x="177.6" y="191.6" width="9.8" height="17" fill="#e0703a" opacity="0.6"/>
<rect x="179.5" y="194" width="2.2" height="13" fill="#f0b060" opacity="0.5"/>
<rect x="183" y="196" width="2.6" height="10" fill="#f0a050" opacity="0.5"/>
<text x="182.4" y="189" font-size="5.6" font-weight="bold" fill="#3a0806" text-anchor="middle">VTIP</text></g>
<path d="M337.1,25.9 L349.1,22.1 L369.3,24 L369.3,27 L353.5,31.8 L337.6,28.6 Z" fill="#a6a6a6"/>
<path d="M337.6,28.6 L350,25.4 L369.3,27 L353.5,32 Z" fill="#f4f090"/>
<path d="M343.1,47.2 Q353,61 363.8,47.2" stroke="#111" stroke-width="1.4" fill="none"/>
<defs>
<linearGradient id="ge" gradientUnits="userSpaceOnUse" x1="503" x2="636" y1="0" y2="0">
<stop offset="0" stop-color="#5ea2d6"/>
<stop offset="0.183" stop-color="#86b8d0"/>
<stop offset="0.367" stop-color="#b8d6b2"/>
<stop offset="0.50" stop-color="#f0ea9c"/>
<stop offset="0.60" stop-color="#f6ea9a"/>
<stop offset="0.72" stop-color="#f2c890"/>
<stop offset="0.85" stop-color="#eaa486"/>
<stop offset="1" stop-color="#dc787e"/>
</linearGradient>
<linearGradient id="gcb" x1="0" x2="0" y1="1" y2="0">
<stop offset="0" stop-color="#5ea2d6"/>
<stop offset="0.15" stop-color="#86b8d0"/>
<stop offset="0.3" stop-color="#b4d4b4"/>
<stop offset="0.45" stop-color="#f4ec98"/>
<stop offset="0.6" stop-color="#f2cc8e"/>
<stop offset="0.75" stop-color="#e8a486"/>
<stop offset="1" stop-color="#d8767f"/>
</linearGradient>
<clipPath id="cw"><path d="M515.5,80.90 A65.10000000000001,61.2 0 1 1 515.5,129.70 Z"/></clipPath>
<filter id="halo" x="-30%" y="-30%" width="160%" height="160%"><feMorphology in="SourceAlpha" operator="dilate" radius="1.0" result="d"/><feGaussianBlur in="d" stdDeviation="0.8" result="b"/><feFlood flood-color="#fff"/><feComposite in2="b" operator="in" result="w"/><feMerge><feMergeNode in="w"/><feMergeNode in="SourceGraphic"/></feMerge></filter>
</defs>
<path d="M514.5,79.96 A66.4,62.5 0 1 1 514.5,130.64 Z" fill="url(#ge)"/>
<path d="M514.5,79.96 A66.4,62.5 0 1 1 514.5,130.64 Z" fill="none" stroke="#111" stroke-width="1.1"/>
<text x="574.8" y="88.4" font-size="9.2" fill="#111" text-anchor="middle">1×1 cm</text>
<g filter="url(#halo)">
<text x="529.2" y="126.4" font-size="7.2" fill="#262626" stroke="#262626" stroke-width="0.25" text-anchor="middle">2.5</text>
<text x="551.9" y="144.9" font-size="7.2" fill="#262626" stroke="#262626" stroke-width="0.25" text-anchor="middle">3.5</text>
<text x="577.1" y="156.8" font-size="7.2" fill="#262626" stroke="#262626" stroke-width="0.25" text-anchor="middle">4.5</text>
<text x="595.3" y="144.4" font-size="7.2" fill="#262626" stroke="#262626" stroke-width="0.25" text-anchor="middle">5.5</text>
<text x="612.1" y="132.3" font-size="7.2" fill="#262626" stroke="#262626" stroke-width="0.25" text-anchor="middle">6.5</text>
<text x="629.7" y="119.4" font-size="7.2" fill="#262626" stroke="#262626" stroke-width="0.25" text-anchor="middle">7.5</text>
</g>
<g clip-path="url(#cw)"><path d="M493.85,35.30 L497.42,38.80 L500.81,42.30 L504.02,45.80 L507.04,49.30 L509.88,52.80 L512.54,56.30 L515.01,59.80 L517.31,63.30 L519.41,66.80 L521.34,70.30 L523.08,73.80 L524.64,77.30 L526.01,80.80 L527.20,84.30 L528.21,87.80 L529.03,91.30 L529.68,94.80 L530.13,98.30 L530.41,101.80 L530.50,105.30 L530.41,108.80 L530.13,112.30 L529.68,115.80 L529.03,119.30 L528.21,122.80 L527.20,126.30 L526.01,129.80 L524.64,133.30 L523.08,136.80 L521.34,140.30 L519.41,143.80 L517.31,147.30 L515.01,150.80 L512.54,154.30 L509.88,157.80 L507.04,161.30 L504.02,164.80 L500.81,168.30 L497.42,171.80 L493.85,175.30M543.69,35.30 L544.81,38.80 L545.87,42.30 L546.88,45.80 L547.83,49.30 L548.72,52.80 L549.56,56.30 L550.33,59.80 L551.05,63.30 L551.72,66.80 L552.32,70.30 L552.87,73.80 L553.36,77.30 L553.79,80.80 L554.16,84.30 L554.48,87.80 L554.74,91.30 L554.94,94.80 L555.08,98.30 L555.17,101.80 L555.20,105.30 L555.17,108.80 L555.08,112.30 L554.94,115.80 L554.74,119.30 L554.48,122.80 L554.16,126.30 L553.79,129.80 L553.36,133.30 L552.87,136.80 L552.32,140.30 L551.72,143.80 L551.05,147.30 L550.33,150.80 L549.56,154.30 L548.72,157.80 L547.83,161.30 L546.88,164.80 L545.87,168.30 L544.81,171.80 L543.69,175.30M573.98,35.30 L574.09,38.80 L574.21,42.30 L574.31,45.80 L574.42,49.30 L574.51,52.80 L574.60,56.30 L574.68,59.80 L574.76,63.30 L574.83,66.80 L574.89,70.30 L574.95,73.80 L575.00,77.30 L575.05,80.80 L575.09,84.30 L575.12,87.80 L575.15,91.30 L575.17,94.80 L575.19,98.30 L575.20,101.80 L575.20,105.30 L575.20,108.80 L575.19,112.30 L575.17,115.80 L575.15,119.30 L575.12,122.80 L575.09,126.30 L575.05,129.80 L575.00,133.30 L574.95,136.80 L574.89,140.30 L574.83,143.80 L574.76,147.30 L574.68,150.80 L574.60,154.30 L574.51,157.80 L574.42,161.30 L574.31,164.80 L574.21,168.30 L574.09,171.80 L573.98,175.30M597.26,35.30 L597.07,38.80 L596.89,42.30 L596.72,45.80 L596.55,49.30 L596.40,52.80 L596.26,56.30 L596.13,59.80 L596.01,63.30 L595.89,66.80 L595.79,70.30 L595.70,73.80 L595.61,77.30 L595.54,80.80 L595.48,84.30 L595.42,87.80 L595.38,91.30 L595.34,94.80 L595.32,98.30 L595.30,101.80 L595.30,105.30 L595.30,108.80 L595.32,112.30 L595.34,115.80 L595.38,119.30 L595.42,122.80 L595.48,126.30 L595.54,129.80 L595.61,133.30 L595.70,136.80 L595.79,140.30 L595.89,143.80 L596.01,147.30 L596.13,150.80 L596.26,154.30 L596.40,157.80 L596.55,161.30 L596.72,164.80 L596.89,168.30 L597.07,171.80 L597.26,175.30M622.48,35.30 L621.43,38.80 L620.43,42.30 L619.49,45.80 L618.60,49.30 L617.76,52.80 L616.98,56.30 L616.25,59.80 L615.58,63.30 L614.96,66.80 L614.40,70.30 L613.88,73.80 L613.42,77.30 L613.02,80.80 L612.67,84.30 L612.37,87.80 L612.13,91.30 L611.94,94.80 L611.81,98.30 L611.73,101.80 L611.70,105.30 L611.73,108.80 L611.81,112.30 L611.94,115.80 L612.13,119.30 L612.37,122.80 L612.67,126.30 L613.02,129.80 L613.42,133.30 L613.88,136.80 L614.40,140.30 L614.96,143.80 L615.58,147.30 L616.25,150.80 L616.98,154.30 L617.76,157.80 L618.60,161.30 L619.49,164.80 L620.43,168.30 L621.43,171.80 L622.48,175.30M664.75,35.30 L661.17,38.80 L657.77,42.30 L654.55,45.80 L651.52,49.30 L648.67,52.80 L646.01,56.30 L643.53,59.80 L641.23,63.30 L639.12,66.80 L637.19,70.30 L635.44,73.80 L633.88,77.30 L632.50,80.80 L631.31,84.30 L630.30,87.80 L629.47,91.30 L628.83,94.80 L628.37,98.30 L628.09,101.80 L628.00,105.30 L628.09,108.80 L628.37,112.30 L628.83,115.80 L629.47,119.30 L630.30,122.80 L631.31,126.30 L632.50,129.80 L633.88,133.30 L635.44,136.80 L637.19,140.30 L639.12,143.80 L641.23,147.30 L643.53,150.80 L646.01,154.30 L648.67,157.80 L651.52,161.30 L654.55,164.80 L657.77,168.30 L661.17,171.80 L664.75,175.30" stroke="#14201e" stroke-width="1.25" fill="none"/></g>
<rect x="567.5" y="96" width="16.3" height="15.8" fill="#7fbf62" stroke="#356e26" stroke-width="0.9"/>
<path d="M575.2,96v15.8" stroke="#1e3e14" stroke-width="1.1"/>
<rect x="499.7" y="37.3" width="151.7" height="135.39999999999998" fill="none" stroke="#111" stroke-width="1.1"/>
<path d="M506.00,172.7v-3.2M506.00,37.3v3.2M499.7,170.30h3.2M651.4,170.30h-3.2M514.65,172.7v-1.8M514.65,37.3v1.8M499.7,162.18h1.8M651.4,162.18h-1.8M523.30,172.7v-3.2M523.30,37.3v3.2M499.7,154.05h3.2M651.4,154.05h-3.2M531.95,172.7v-1.8M531.95,37.3v1.8M499.7,145.93h1.8M651.4,145.93h-1.8M540.60,172.7v-3.2M540.60,37.3v3.2M499.7,137.80h3.2M651.4,137.80h-3.2M549.25,172.7v-1.8M549.25,37.3v1.8M499.7,129.68h1.8M651.4,129.68h-1.8M557.90,172.7v-3.2M557.90,37.3v3.2M499.7,121.55h3.2M651.4,121.55h-3.2M566.55,172.7v-1.8M566.55,37.3v1.8M499.7,113.42h1.8M651.4,113.42h-1.8M575.20,172.7v-3.2M575.20,37.3v3.2M499.7,105.30h3.2M651.4,105.30h-3.2M583.85,172.7v-1.8M583.85,37.3v1.8M499.7,97.17h1.8M651.4,97.17h-1.8M592.50,172.7v-3.2M592.50,37.3v3.2M499.7,89.05h3.2M651.4,89.05h-3.2M601.15,172.7v-1.8M601.15,37.3v1.8M499.7,80.92h1.8M651.4,80.92h-1.8M609.80,172.7v-3.2M609.80,37.3v3.2M499.7,72.80h3.2M651.4,72.80h-3.2M618.45,172.7v-1.8M618.45,37.3v1.8M499.7,64.67h1.8M651.4,64.67h-1.8M627.10,172.7v-3.2M627.10,37.3v3.2M499.7,56.55h3.2M651.4,56.55h-3.2M635.75,172.7v-1.8M635.75,37.3v1.8M499.7,48.42h1.8M651.4,48.42h-1.8M644.40,172.7v-3.2M644.40,37.3v3.2M499.7,40.30h3.2M651.4,40.30h-3.2" stroke="#111" stroke-width="0.9" fill="none"/>
<text x="506.80" y="185.4" font-size="9.8" fill="#222" text-anchor="middle">4</text>
<text x="504.00" y="185.4" font-size="9.8" fill="#222" text-anchor="end">−</text>
<text x="494.6" y="174.00" font-size="9.8" fill="#222" text-anchor="end">−4</text>
<text x="524.10" y="185.4" font-size="9.8" fill="#222" text-anchor="middle">3</text>
<text x="521.30" y="185.4" font-size="9.8" fill="#222" text-anchor="end">−</text>
<text x="494.6" y="157.75" font-size="9.8" fill="#222" text-anchor="end">−3</text>
<text x="541.40" y="185.4" font-size="9.8" fill="#222" text-anchor="middle">2</text>
<text x="538.60" y="185.4" font-size="9.8" fill="#222" text-anchor="end">−</text>
<text x="494.6" y="141.50" font-size="9.8" fill="#222" text-anchor="end">−2</text>
<text x="558.70" y="185.4" font-size="9.8" fill="#222" text-anchor="middle">1</text>
<text x="555.90" y="185.4" font-size="9.8" fill="#222" text-anchor="end">−</text>
<text x="494.6" y="125.25" font-size="9.8" fill="#222" text-anchor="end">−1</text>
<text x="575.20" y="185.4" font-size="9.8" fill="#222" text-anchor="middle">0</text>
<text x="494.6" y="109.00" font-size="9.8" fill="#222" text-anchor="end">0</text>
<text x="592.50" y="185.4" font-size="9.8" fill="#222" text-anchor="middle">1</text>
<text x="494.6" y="92.75" font-size="9.8" fill="#222" text-anchor="end">1</text>
<text x="609.80" y="185.4" font-size="9.8" fill="#222" text-anchor="middle">2</text>
<text x="494.6" y="76.50" font-size="9.8" fill="#222" text-anchor="end">2</text>
<text x="627.10" y="185.4" font-size="9.8" fill="#222" text-anchor="middle">3</text>
<text x="494.6" y="60.25" font-size="9.8" fill="#222" text-anchor="end">3</text>
<text x="644.40" y="185.4" font-size="9.8" fill="#222" text-anchor="middle">4</text>
<text x="494.6" y="39.40" font-size="9.8" fill="#222" text-anchor="end">4</text>
<text x="578.6" y="199.8" font-size="10.2" fill="#222" text-anchor="middle">Position (cm)</text>
<text transform="translate(475.7,106.3) rotate(-90)" font-size="10.1" fill="#222" text-anchor="middle">Position (cm)</text>
<rect x="644.8" y="52" width="11.8" height="106" fill="url(#gcb)"/>
<text x="660.6" y="58.6" font-size="10" fill="#222">8.0</text>
<text x="661.5" y="158" font-size="10" fill="#222">1.5</text>
<text transform="translate(670,103.6) rotate(-90)" font-size="10.5" fill="#222" text-anchor="middle">Equiv.VTIP flux</text>
<text transform="translate(680,101.8) rotate(-90)" font-size="10.5" fill="#222" text-anchor="middle">(×10<tspan dy="-3.8" font-size="7">−7</tspan><tspan dy="3.8"> torr)</tspan></text>
</svg>
</body></html>
